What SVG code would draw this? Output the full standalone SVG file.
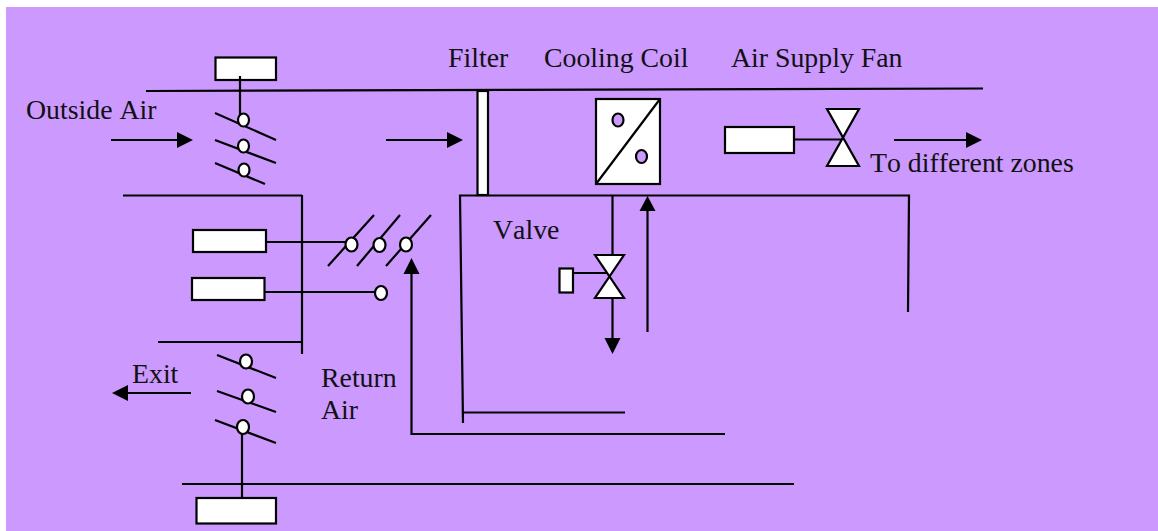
<svg xmlns="http://www.w3.org/2000/svg" width="1158" height="531" viewBox="0 0 1158 531">
<style>
.l{fill:none;stroke:#000;stroke-width:2.200}
.b{fill:#fff;stroke:#000;stroke-width:2.200}
.p{fill:#c9f;stroke:#000;stroke-width:2.200}
.h{fill:#000;stroke:none}
text{font-family:"Liberation Serif","Times New Roman",serif;font-size:27.800px;font-kerning:none;fill:#111}
</style>
<rect id="background" x="6" y="7" width="1152" height="524" fill="#c9f"/>
<g id="connectors">
<path class="l" d="M146 91L983 88.500"/>
<path class="l" d="M123 195.500H302M302 195V354M158 342H302"/>
<path class="l" d="M182 484H794"/>
<path class="l" d="M463 423L460 195.500H909L908 312"/>
<path class="l" d="M463 412.500H625"/>
<path class="l" d="M411.500 274V434H725"/>
<path class="l" d="M266 242H350"/>
<path class="l" d="M264 292H375"/>
<path class="l" d="M242 433V498"/>
<path class="l" d="M794 139.500H843"/>
<path class="l" d="M573 273H609"/>
<path class="l" d="M612.500 195V255M612.500 298V340"/>
<path class="l" d="M647.500 211V332"/>
<path class="l" d="M111 140H178"/>
<path class="l" d="M386 140H448"/>
<path class="l" d="M894 140H967"/>
<path class="l" d="M191 393H127"/>
<path class="h" d="M177 132L193 140L177 148Z"/>
<path class="h" d="M447 132L463 140L447 148Z"/>
<path class="h" d="M966 132L982 140L966 148Z"/>
<path class="h" d="M128 385L112 393L128 401Z"/>
<path class="h" d="M403.500 274L411.500 258L419.500 274Z"/>
<path class="h" d="M639.500 211L647.500 196L655.500 211Z"/>
<path class="h" d="M604.500 338L612.500 354L620.500 338Z"/>
</g>
<g id="outside-damper">
<rect class="b" x="215.500" y="57.500" width="60.500" height="22.500"/>
<path class="l" d="M240 76V118"/>
<path class="l" d="M215 113L276 140M215 140L276 163M215 163L265 184"/>
<ellipse class="b" cx="243.500" cy="120" rx="5.500" ry="6.500"/>
<ellipse class="b" cx="243.500" cy="146" rx="5.500" ry="6.500"/>
<ellipse class="b" cx="244" cy="170" rx="5.500" ry="6.500"/>
</g>
<g id="return-damper">
<rect class="b" x="193" y="230" width="73" height="22"/>
<rect class="b" x="192" y="278" width="72.500" height="22"/>
<path class="l" d="M328 266L374 215M357 266L400 215M386 266L431 215"/>
<ellipse class="b" cx="351.500" cy="244.500" rx="6" ry="7"/>
<ellipse class="b" cx="379.500" cy="245" rx="6" ry="7"/>
<ellipse class="b" cx="406" cy="244.500" rx="6" ry="7"/>
<ellipse class="b" cx="381" cy="293" rx="6" ry="7"/>
</g>
<g id="exit-damper">
<path class="l" d="M217 355L276 378M217 391L276 412M215 420L276 443"/>
<ellipse class="b" cx="246" cy="361.500" rx="6" ry="7"/>
<ellipse class="b" cx="248" cy="396.500" rx="6" ry="7"/>
<ellipse class="b" cx="243" cy="427" rx="6" ry="7"/>
<rect class="b" x="196.500" y="498" width="79.500" height="25.500"/>
</g>
<g id="filter">
<rect class="b" x="477.500" y="91" width="10.500" height="104"/>
</g>
<g id="cooling-coil">
<rect class="b" x="596" y="99" width="64" height="85"/>
<path class="l" d="M596 184L660 99"/>
<ellipse class="p" cx="618" cy="120" rx="5.500" ry="6.500"/>
<ellipse class="p" cx="641.500" cy="156.500" rx="5.500" ry="6.500"/>
</g>
<g id="air-supply-fan">
<rect class="b" x="725" y="127" width="69" height="26"/>
<path class="b" d="M827 109H859L827 166H859Z"/>
</g>
<g id="valve">
<rect class="b" x="559.500" y="268.500" width="13.500" height="24"/>
<path class="b" d="M595 255H624L595 298H624Z"/>
</g>
<g id="labels">
<text x="26" y="119">Outside Air</text>
<text x="448" y="67">Filter</text>
<text x="544" y="67">Cooling Coil</text>
<text x="731" y="67">Air Supply Fan</text>
<text x="870" y="172">To different zones</text>
<text x="493" y="239">Valve</text>
<text x="132" y="383">Exit</text>
<text x="321" y="387">Return</text>
<text x="321" y="419">Air</text>
</g>
</svg>
